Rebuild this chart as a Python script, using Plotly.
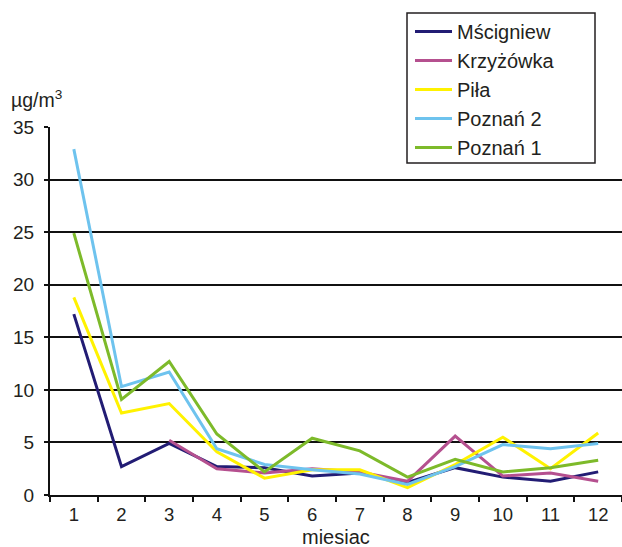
import plotly.graph_objects as go

months = [str(m) for m in range(1, 13)]
y_ticks = [0, 5, 10, 15, 20, 25, 30, 35]

mscigniew = [17.2, 2.7, 4.9, 2.7, 2.6, 1.8, 2.1, 1.2, 2.6, 1.7, 1.3, 2.2]
krzyzowka = [None, None, 5.2, 2.5, 2.1, 2.5, 2.2, 1.3, 5.6, 1.8, 2.1, 1.3]
pila = [18.8, 7.8, 8.7, 4.1, 1.6, 2.4, 2.4, 0.7, 2.9, 5.5, 2.5, 5.9]
poznan2 = [32.9, 10.3, 11.7, 4.4, 2.9, 2.4, 2.0, 1.0, 2.7, 4.8, 4.4, 4.9]
poznan1 = [24.9, 9.1, 12.7, 5.8, 2.2, 5.4, 4.2, 1.7, 3.4, 2.2, 2.6, 3.3]

series = [
    ("Mścigniew", mscigniew, "#221c74"),
    ("Krzyżówka", krzyzowka, "#b5508f"),
    ("Piła", pila, "#fff200"),
    ("Poznań 2", poznan2, "#6ec3ee"),
    ("Poznań 1", poznan1, "#7dba2a"),
]

FONT = "Liberation Sans, Arial, sans-serif"
TXT = "#231f20"

# pixel helpers (plot area: x 50..622, y 127..495)
def px(x):
    return (x - 50) / 572

def py(y):
    return (495 - y) / 368

fig = go.Figure()
for i, (name, vals, col) in enumerate(series):
    fig.add_trace(go.Scatter(
        x=months, y=vals, name=name, mode="lines",
        line=dict(color=col, width=3),
        connectgaps=False,
    ))

fig.update_layout(
    width=622, height=547,
    margin=dict(l=50, r=0, t=127, b=52),
    paper_bgcolor="white", plot_bgcolor="white",
    font=dict(family=FONT, size=19, color=TXT),
    showlegend=True,
    legend=dict(
        x=px(410), y=py(12), xanchor="left", yanchor="top",
        bgcolor="rgba(0,0,0,0)", borderwidth=0,
        font=dict(family=FONT, size=20, color=TXT),
        traceorder="normal",
        itemwidth=37,
    ),
    shapes=[dict(
        type="rect", xref="paper", yref="paper",
        x0=px(407), x1=px(595), y0=py(163), y1=py(13),
        line=dict(color="#231f20", width=1.5), fillcolor="white",
        layer="above",
    )],
    xaxis=dict(
        type="category", range=[-0.5, 11.5],
        showgrid=False, showline=True, linecolor="#111", linewidth=2,
        ticks="outside", ticklen=5, tickwidth=2, tickcolor="#111",
        tickson="boundaries", ticklabelstandoff=2,
        tickfont=dict(family=FONT, size=18.5, color=TXT),
    ),
    yaxis=dict(
        range=[0, 35], tickmode="array", tickvals=y_ticks,
        showgrid=True, gridcolor="#111", gridwidth=2,
        showline=True, linecolor="#111", linewidth=2,
        ticks="outside", ticklen=4, tickwidth=2, tickcolor="#111",
        zeroline=False, ticklabelstandoff=6,
        tickfont=dict(family=FONT, size=19, color=TXT),
    ),
    annotations=[
        dict(
            text="µg/m<sup>3</sup>", xref="paper", yref="paper",
            x=px(9), y=py(113), xanchor="left", yanchor="bottom",
            showarrow=False, font=dict(family=FONT, size=19.5, color=TXT),
        ),
        dict(
            text="miesiac", xref="paper", yref="paper",
            x=0.5, y=py(547), xanchor="center", yanchor="bottom",
            yshift=-3, showarrow=False, font=dict(family=FONT, size=20, color=TXT),
        ),
    ],
)

fig.write_html("out.html")
